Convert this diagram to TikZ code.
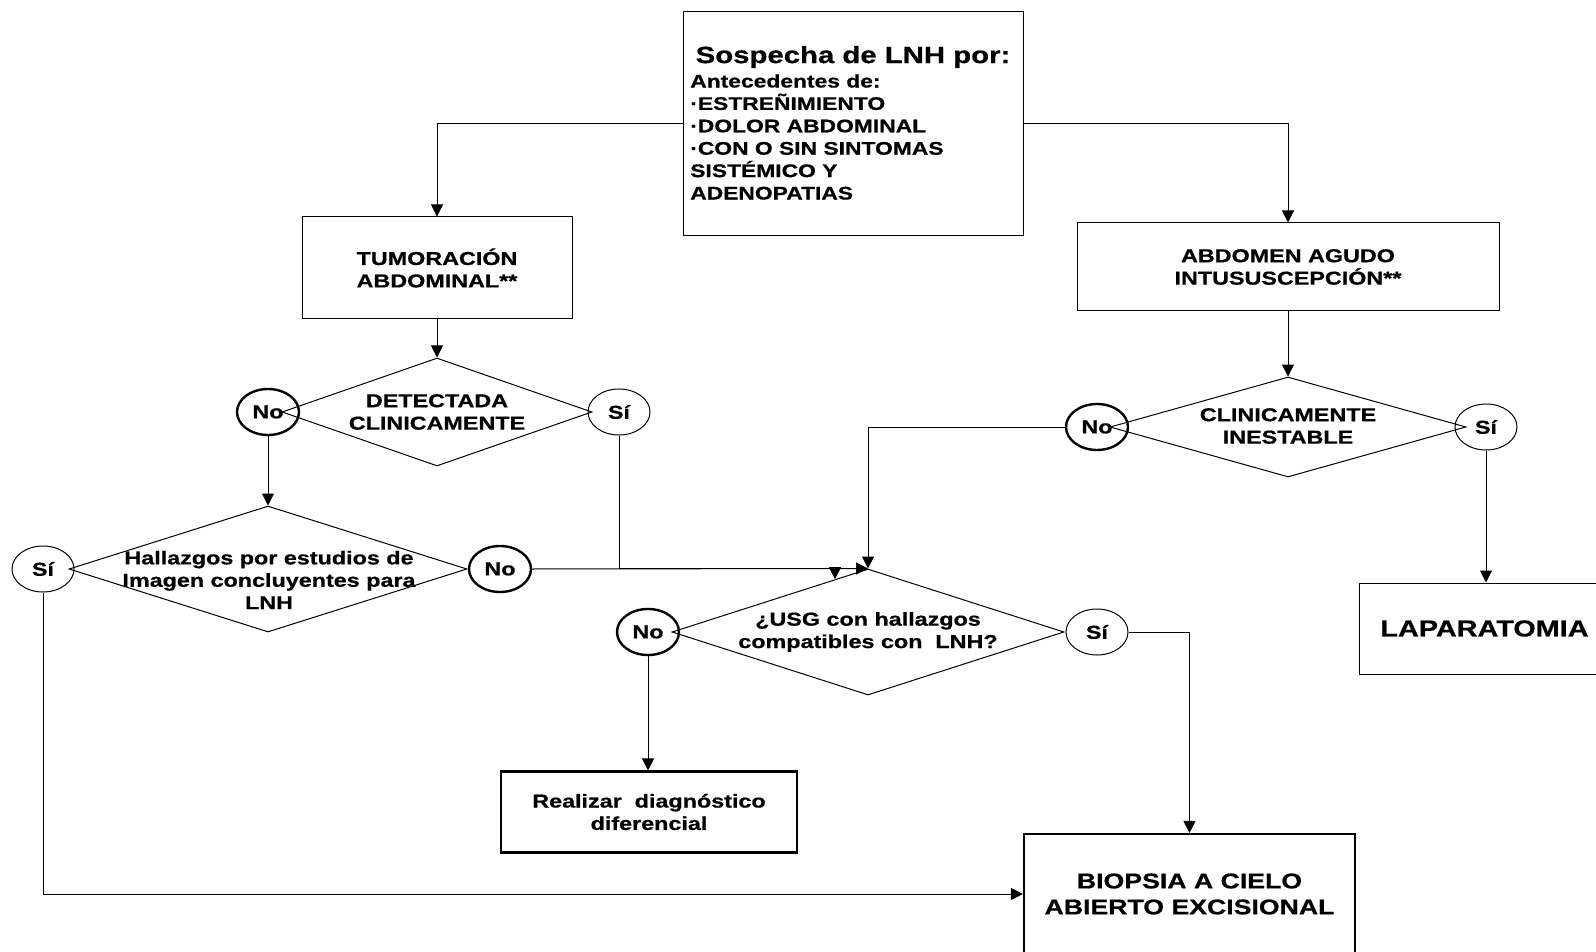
\documentclass[tikz,border=0pt]{standalone}
\usepackage{fontspec}
\setmainfont{Liberation Sans}[FakeStretch=1.25, BoldFeatures={FakeBold=0.7}]
\usetikzlibrary{arrows.meta,calc,shapes.geometric}
\begin{document}
\begin{tikzpicture}[x=0.75pt,y=-0.75pt,
  f14/.style={font=\fontsize{14}{16.8}\selectfont\bfseries},
  box/.style={draw, line width=0.75pt, inner sep=0pt, align=center, f14},
  boxthick/.style={box, line width=1.6pt},
  dia/.style={draw, shape=diamond, inner sep=0pt, line width=0.75pt},
  dlabel/.style={align=center, inner sep=0pt, f14},
  yes/.style={draw, ellipse, minimum width=46.5pt, minimum height=34.5pt, inner sep=0pt, line width=0.75pt, f14},
  no/.style={yes, line width=1.8pt},
  arr/.style={-{Triangle[length=9pt,width=9pt]}, line width=0.75pt}
]
\useasboundingbox (0,0) rectangle (1596,952);
\clip (0,0) rectangle (1596,952);

% boxes
\node[box, minimum width=255pt, minimum height=168pt] (top) at (853,124) {};
\node[inner sep=0pt, font=\fontsize{17.6}{20}\selectfont\bfseries] (title) at (853,57) {Sospecha de LNH por:};
\node[inner sep=0pt, anchor=north west, align=left, font=\fontsize{13.7}{16.8}\selectfont\bfseries] (topt) at (690,74)
  {Antecedentes de:\\·ESTREÑIMIENTO\\·DOLOR ABDOMINAL\\·CON O SIN SINTOMAS\\SISTÉMICO Y\\ADENOPATIAS};

\node[box, minimum width=202.5pt, minimum height=76.5pt] (tum) at (437,268) {TUMORACIÓN\\ABDOMINAL**};
\node[box, minimum width=316.5pt, minimum height=66pt] (abd) at (1288,267) {ABDOMEN AGUDO\\INTUSUSCEPCIÓN**};

% diamonds
\node[dia, minimum width=232.5pt, minimum height=81pt] (d1) at (437,412) {};
\node[dlabel] (d1t) at (437,412) {DETECTADA\\CLINICAMENTE};
\node[dia, minimum width=298.5pt, minimum height=94.5pt] (d2) at (268,569) {};
\node[dlabel] (d2t) at (269,580) {Hallazgos por estudios de\\Imagen concluyentes para\\LNH};
\node[dia, minimum width=294pt, minimum height=94.5pt] (d3) at (868,632) {};
\node[dlabel] (d3t) at (868,632) {¿USG con hallazgos\\compatibles con~~LNH?};
\node[dia, minimum width=267pt, minimum height=75pt] (d4) at (1288,427) {};
\node[dlabel] (d4t) at (1288,426) {CLINICAMENTE\\INESTABLE};

% circles
\node[no] (no1) at (268,412) {No};
\node[yes] (si1) at (619,412) {Sí};
\node[yes] (si2) at (43,569) {Sí};
\node[no] (no2) at (500,569) {No};
\node[no] (no3) at (648,632) {No};
\node[yes] (si3) at (1097,632) {Sí};
\node[no] (no4) at (1097,427) {No};
\node[yes] (si4) at (1486,427) {Sí};

% end boxes
\node[boxthick, minimum width=222pt, minimum height=60.75pt] (real) at (649,812) {Realizar~~diagnóstico\\diferencial};
\node[boxthick, minimum width=248.25pt, minimum height=90pt, font=\fontsize{16}{19.5}\selectfont\bfseries] (bio) at (1189.5,894) {BIOPSIA A CIELO\\ABIERTO EXCISIONAL};
\node[box, minimum width=188.25pt, minimum height=68.25pt, font=\fontsize{17.3}{20}\selectfont\bfseries] (lap) at (1484.5,628.5) {LAPARATOMIA};

% connectors
\draw[arr] (top.west) -| (tum.north);
\draw[arr] (top.east) -| (abd.north);
\draw[arr] (tum.south) -- (d1.north);
\draw[arr] (abd.south) -- (d4.north);
\draw[arr] (no1.south) -- (no1.south |- d2.north);
\coordinate (e1) at ($(d3.north)!0.168!(d3.west)$);
\draw[arr] (si1.south) |- (d3.north -| e1) -- (e1);
\draw[arr] (no2.east) -- (d3.north);
\draw[arr] (no4.west) -| (d3.north);
\draw[arr] (si4.south) -- (si4.south |- lap.north);
\draw[arr] (no3.south) -- (no3.south |- real.north);
\draw[arr] (si3.east) -| (bio.north);
\draw[arr] (si2.south) |- (bio.west);
\end{tikzpicture}
\end{document}
